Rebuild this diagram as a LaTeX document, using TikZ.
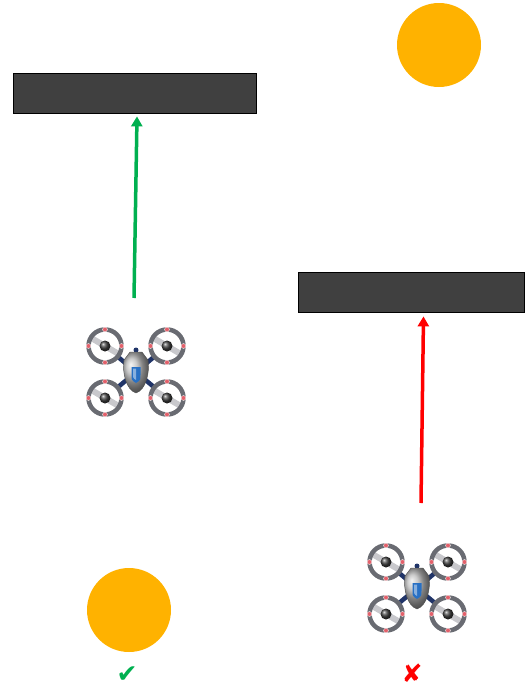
\documentclass[tikz,border=0pt]{standalone}
\usepackage{fontspec}
\newfontfamily\symfont{DejaVu Sans}
\usetikzlibrary{arrows.meta}
\definecolor{sun}{RGB}{255,178,0}
\definecolor{barfill}{RGB}{64,64,64}
\definecolor{okgreen}{RGB}{0,176,80}
\definecolor{badred}{RGB}{255,0,0}
\definecolor{ringgray}{RGB}{105,107,114}
\definecolor{bladegray}{RGB}{200,200,204}
\definecolor{armnavy}{RGB}{32,52,104}
\definecolor{dotred}{RGB}{226,96,106}
\definecolor{shieldblue}{RGB}{40,112,196}

\tikzset{
  sunball/.style={circle, fill=sun, minimum size=84pt, inner sep=0pt},
  wall/.style={draw=black, line width=0.8pt, fill=barfill, minimum height=40pt, inner sep=0pt},
  beam/.style={line width=3.5pt, -{Triangle[width=11pt,length=10pt]}},
  signmark/.style={font=\symfont\fontsize{25}{25}\selectfont, inner sep=0pt, anchor=south},
  % quadcopter seen from above
  drone/.pic={
    \draw[armnavy, line width=4.5pt] (-31,-26) -- (31,26) (31,-26) -- (-31,26);
    \foreach \dx/\dy in {-31/-26,31/-26,-31/26,31/26}{
      \begin{scope}[shift={(\dx,\dy)}]
        \fill[white] (0,0) circle (17pt);
        \draw[bladegray, line width=6pt, line cap=round] (-12,-7) -- (12,7);
        \draw[ringgray, line width=4.5pt] (0,0) circle (16.5pt);
        \shade[ball color=black!75] (0,0) circle (5.5pt);
        \foreach \a in {0,90,180,270}
          \fill[dotred, draw=white, line width=0.4pt] (\a:16.5pt) circle (2.4pt);
      \end{scope}
    }
    \fill[armnavy] (0,-22) circle (2.5pt);
    \shade[ball color=gray!55, draw=gray!60!black, line width=0.4pt]
      (-6,-20) -- (6,-20) -- (12,-12) .. controls (14,0) and (10,18) .. (0,21)
      .. controls (-10,18) and (-14,0) .. (-12,-12) -- cycle;
    \fill[shieldblue] (-4.5,-5) -- (4.5,-5) -- (4.5,3) .. controls (4.5,8) .. (0,11)
      .. controls (-4.5,8) .. (-4.5,3) -- cycle;
    \fill[white, opacity=0.45] (-3,-3.5) -- (0,-3.5) -- (0,8) .. controls (-3,6) .. (-3,2) -- cycle;
  }
}

\begin{document}
\begin{tikzpicture}[x=1pt, y=-1pt]
  \useasboundingbox (0,0) rectangle (525,688);

  % light sources
  \node[sunball] (sunTop) at (439,45) {};
  \node[sunball] (sunBottom) at (129,610) {};

  % obstacles
  \node[wall, minimum width=243pt] (wallA) at (134.5,93) {};
  \node[wall, minimum width=226pt] (wallB) at (411,292) {};

  % quadcopters
  \pic (droneA) at (136,372) {drone};
  \pic (droneB) at (417,588) {drone};

  % flight directions
  \coordinate (startA) at (134,298);
  \coordinate (startB) at (421,503);
  \draw[beam, okgreen] (startA) -- ([xshift=2.5pt,yshift=-3pt]wallA.south);
  \draw[beam, badred] (startB) -- ([xshift=12.5pt,yshift=-4pt]wallB.south);

  % verdicts
  \node[signmark, text=okgreen] (okMark) at (127,683) {✔};
  \node[signmark, text=badred] (badMark) at (412,683) {✘};
\end{tikzpicture}
\end{document}
